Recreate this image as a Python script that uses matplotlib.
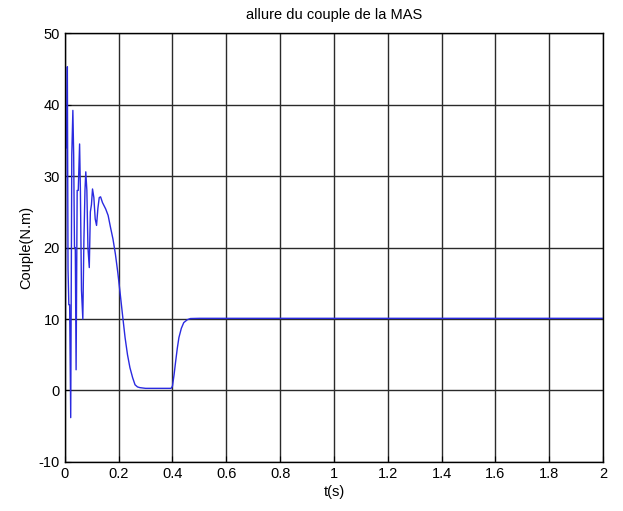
import numpy as np
import matplotlib.pyplot as plt

# torque trace (t in s, couple in N.m)
t = [0.0, 0.002, 0.004, 0.007, 0.0095, 0.012, 0.015, 0.018, 0.022,
     0.026, 0.030, 0.033, 0.036, 0.039, 0.042, 0.046, 0.050, 0.055,
     0.058, 0.062, 0.067, 0.071, 0.075, 0.078, 0.082, 0.086, 0.091,
     0.095, 0.099, 0.103, 0.108, 0.113, 0.118, 0.123, 0.128, 0.133,
     0.140, 0.152, 0.161, 0.170, 0.179, 0.188, 0.197, 0.206, 0.215,
     0.224, 0.233, 0.242, 0.252, 0.261, 0.270, 0.279, 0.30, 0.35,
     0.395, 0.400, 0.406, 0.412, 0.418, 0.424, 0.433, 0.442, 0.455,
     0.467, 0.50, 0.8, 1.2, 1.6, 2.0]
couple = [0.0, 6.0, 34.0, 34.0, 45.3, 17.0, 12.0, 12.0, -3.8,
          33.0, 39.2, 33.0, 20.0, 20.0, 2.9, 28.0, 28.0, 34.5,
          28.0, 14.0, 10.0, 21.0, 28.0, 30.6, 28.0, 20.0, 17.2,
          25.0, 26.0, 28.2, 27.0, 24.0, 23.1, 25.5, 27.0, 27.1,
          26.3, 25.4, 24.5, 22.8, 21.2, 19.1, 16.5, 13.5, 10.4,
          7.4, 5.0, 3.2, 1.8, 0.8, 0.5, 0.4, 0.3, 0.3,
          0.3, 0.6, 2.2, 4.1, 5.9, 7.4, 8.7, 9.5, 9.9,
          10.07, 10.1, 10.1, 10.1, 10.1, 10.1]

xticks = [0, 0.2, 0.4, 0.6, 0.8, 1, 1.2, 1.4, 1.6, 1.8, 2]
xlabels = ['0', '0.2', '0.4', '0.6', '0.8', '1', '1.2', '1.4', '1.6', '1.8', '2']
yticks = [-10, 0, 10, 20, 30, 40, 50]

plt.rcParams['font.family'] = ['Liberation Sans', 'DejaVu Sans']
plt.rcParams['axes.unicode_minus'] = False

fig = plt.figure(figsize=(6.23, 5.11), dpi=100)
ax = fig.add_axes([0.104, 0.096, 0.864, 0.839])

ax.plot(t, couple, color='#2a2ae0', linewidth=1.0)

ax.set_xlim(0, 2)
ax.set_ylim(-10, 50)
ax.set_xticks(xticks)
ax.set_xticklabels(xlabels)
ax.set_yticks(yticks)
ax.tick_params(direction='in', labelsize=10.5, length=4, width=0.8)
ax.grid(True, color='#2a2a2a', linewidth=1.0, linestyle='-')
for s in ax.spines.values():
    s.set_linewidth(1.0)

ax.set_title('allure du couple de la MAS', fontsize=10.5, pad=10)
ax.set_xlabel('t(s)', fontsize=10.5, labelpad=3)
ax.set_ylabel('Couple(N.m)', fontsize=10.5, labelpad=4)

fig.savefig('out.png', dpi=100)
